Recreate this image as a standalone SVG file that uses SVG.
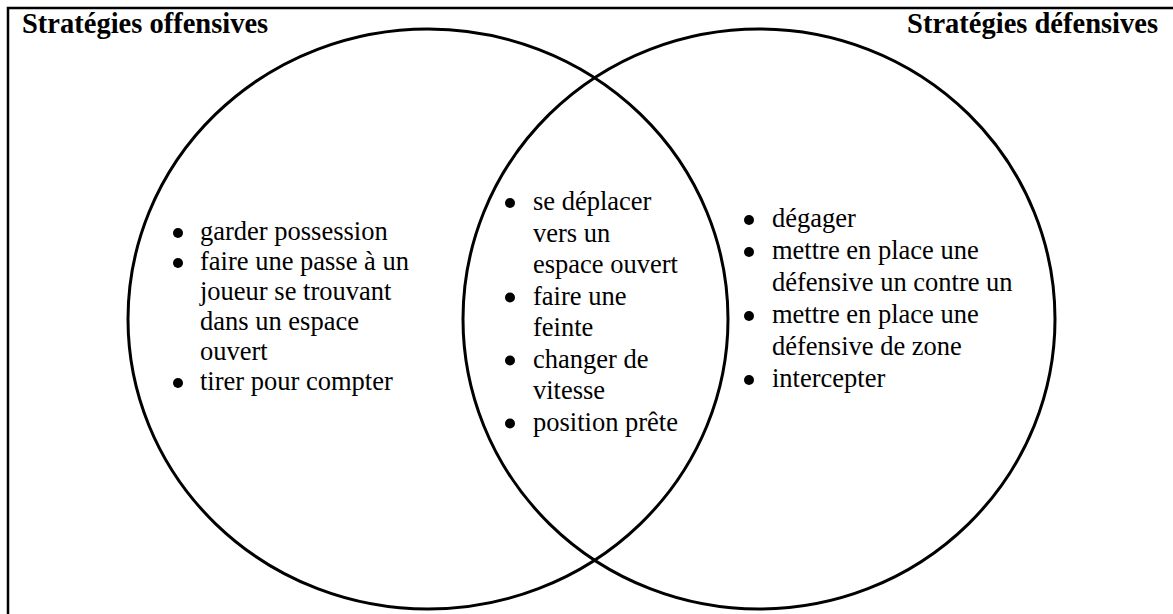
<svg xmlns="http://www.w3.org/2000/svg" width="1173" height="614" viewBox="0 0 1173 614">
<style>
.frame{fill:none;stroke:#000;stroke-width:2.5}
.set{fill:none;stroke:#000;stroke-width:3}
.title{font-family:'Liberation Serif','Times New Roman',Tinos,'DejaVu Serif',serif;font-weight:bold;font-size:28.5px;fill:#000}
.item{font-family:'Liberation Serif','Times New Roman',Tinos,'DejaVu Serif',serif;font-size:26.5px;fill:#000}
.dot{fill:#000}
</style>
<rect width="1173" height="614" fill="#fff"/>
<rect class="frame" x="8" y="8" width="1200" height="700"/>
<g id="connectors"></g>
<g id="set-offensive">
<ellipse class="set" cx="428" cy="319" rx="300" ry="290"/>
<text class="title" x="22" y="33" font-family="Liberation Serif, serif">Stratégies offensives</text>
</g>
<g id="set-defensive">
<ellipse class="set" cx="759" cy="319" rx="296" ry="290"/>
<text class="title" x="1158" y="33" text-anchor="end" font-family="Liberation Serif, serif">Stratégies défensives</text>
</g>
<g id="list-offensive" font-family="Liberation Serif, serif">
<circle class="dot" cx="178" cy="233" r="5"/>
<circle class="dot" cx="178" cy="263" r="5"/>
<circle class="dot" cx="178" cy="383" r="5"/>
<text class="item" x="200" y="240">garder possession</text>
<text class="item" x="200" y="270">faire une passe à un</text>
<text class="item" x="200" y="300">joueur se trouvant</text>
<text class="item" x="200" y="330">dans un espace</text>
<text class="item" x="200" y="360">ouvert</text>
<text class="item" x="200" y="390">tirer pour compter</text>
</g>
<g id="list-common">
<circle class="dot" cx="510" cy="203" r="5"/>
<circle class="dot" cx="510" cy="297.5" r="5"/>
<circle class="dot" cx="510" cy="360.5" r="5"/>
<circle class="dot" cx="510" cy="423.5" r="5"/>
<text class="item" x="533" y="210">se déplacer</text>
<text class="item" x="533" y="241.5">vers un</text>
<text class="item" x="533" y="273">espace ouvert</text>
<text class="item" x="533" y="304.5">faire une</text>
<text class="item" x="533" y="336">feinte</text>
<text class="item" x="533" y="367.5">changer de</text>
<text class="item" x="533" y="399">vitesse</text>
<text class="item" x="533" y="430.5">position prête</text>
</g>
<g id="list-defensive">
<circle class="dot" cx="749" cy="220" r="5"/>
<circle class="dot" cx="749" cy="252" r="5"/>
<circle class="dot" cx="749" cy="316" r="5"/>
<circle class="dot" cx="749" cy="380" r="5"/>
<text class="item" x="772" y="227">dégager</text>
<text class="item" x="772" y="259">mettre en place une</text>
<text class="item" x="772" y="291">défensive un contre un</text>
<text class="item" x="772" y="323">mettre en place une</text>
<text class="item" x="772" y="355">défensive de zone</text>
<text class="item" x="772" y="387">intercepter</text>
</g>
</svg>
